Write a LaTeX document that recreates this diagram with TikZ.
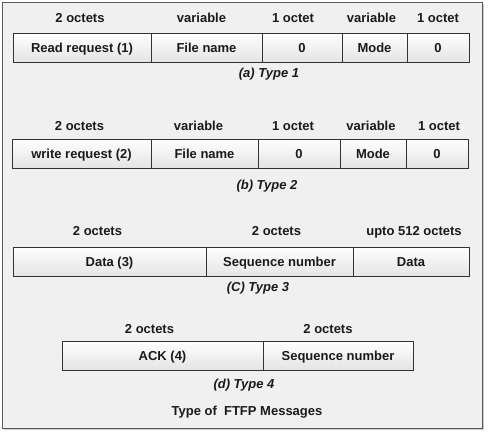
\documentclass[tikz,border=0pt]{standalone}
\usepackage{fontspec}
\setmainfont{Liberation Sans}
\usetikzlibrary{positioning, shadows}

\definecolor{panel}{HTML}{F0F0F0}
\definecolor{cellbot}{HTML}{E4E4E4}
\definecolor{framegray}{HTML}{5A5A5A}
\definecolor{ink}{HTML}{1A1A1A}

\begin{document}
\begin{tikzpicture}[x=0.75pt, y=-0.75pt,
        font=\fontsize{9.75}{12}\selectfont\bfseries, text=ink,
        cell/.style={draw=black!80, outer sep=0pt, inner sep=0pt,
            minimum height=21.75pt, text height=7pt, text depth=0pt,
            top color=white, bottom color=cellbot,
            drop shadow={shadow xshift=1pt, shadow yshift=-1pt, opacity=0.25}},
        lbl/.style={inner sep=0pt, text height=7pt, text depth=2pt},
        captext/.style={lbl, font=\fontsize{9.75}{12}\selectfont\bfseries\itshape}]
        \useasboundingbox (0,0) rectangle (490,433);
        \draw[framegray, fill=panel, drop shadow={shadow xshift=1.5pt, shadow yshift=-1.5pt, opacity=0.4}]
            (2,2) rectangle (482,428);

        % (a) Type 1
        \node[cell, minimum width=103.5pt, anchor=north west] (r1a) at (13,33) {Read request (1)};
        \node[cell, minimum width=83.25pt, right=0pt of r1a] (r1b) {File name};
        \node[cell, minimum width=60pt, right=0pt of r1b] (r1c) {0};
        \node[cell, minimum width=48.75pt, right=0pt of r1c] (r1d) {Mode};
        \node[cell, minimum width=46.5pt, right=0pt of r1d] (r1e) {0};
        \node[lbl, above=5.75pt of r1a, xshift=-1.5pt] (s1a) {2 octets};
        \node[lbl, above=5.75pt of r1b, xshift=-3.75pt] (s1b) {variable};
        \node[lbl, above=5.75pt of r1c, xshift=-6.75pt] (s1c) {1 octet};
        \node[lbl, above=5.75pt of r1d, xshift=-2.25pt] (s1d) {variable};
        \node[lbl, above=5.75pt of r1e] (s1e) {1 octet};
        \node[captext] (capa) at (269,74) {(a) Type 1};

        % (b) Type 2
        \node[cell, minimum width=104.25pt, anchor=north west] (r2a) at (12,139) {write request (2)};
        \node[cell, minimum width=80.25pt, right=0pt of r2a] (r2b) {File name};
        \node[cell, minimum width=61.5pt, right=0pt of r2b] (r2c) {0};
        \node[cell, minimum width=49.5pt, right=0pt of r2c] (r2d) {Mode};
        \node[cell, minimum width=46.5pt, right=0pt of r2d] (r2e) {0};
        \node[lbl, above=4.25pt of r2a, xshift=-1.5pt] (s2a) {2 octets};
        \node[lbl, above=4.25pt of r2b, xshift=-4.5pt] (s2b) {variable};
        \node[lbl, above=4.25pt of r2c, xshift=-4.5pt] (s2c) {1 octet};
        \node[lbl, above=4.25pt of r2d, xshift=-1.5pt] (s2d) {variable};
        \node[lbl, above=4.25pt of r2e, xshift=1.5pt] (s2e) {1 octet};
        \node[captext] (capb) at (267,186) {(b) Type 2};

        % (C) Type 3
        \node[cell, minimum width=144.75pt, anchor=north west] (r3a) at (13,247) {Data (3)};
        \node[cell, minimum width=110.25pt, right=0pt of r3a] (r3b) {Sequence number};
        \node[cell, minimum width=87pt, right=0pt of r3b] (r3c) {Data};
        \node[lbl, above=6.5pt of r3a, xshift=-9pt] (s3a) {2 octets};
        \node[lbl, above=6.5pt of r3b, xshift=-2.25pt] (s3b) {2 octets};
        \node[lbl, above=6.5pt of r3c, xshift=2.25pt] (s3c) {upto 512 octets};
        \node[captext] (capc) at (258,288) {(C) Type 3};

        % (d) Type 4
        \node[cell, minimum width=150.75pt, anchor=north west] (r4a) at (62,341) {ACK (4)};
        \node[cell, minimum width=112.5pt, right=0pt of r4a] (r4b) {Sequence number};
        \node[lbl, above=3.5pt of r4a, xshift=-9.75pt] (s4a) {2 octets};
        \node[lbl, above=3.5pt of r4b, xshift=-7.5pt] (s4b) {2 octets};
        \node[captext] (capd) at (244,385) {(d) Type 4};

        \node[lbl] (title) at (247,412) {Type of~ FTFP Messages};
    \end{tikzpicture}
\end{document}
